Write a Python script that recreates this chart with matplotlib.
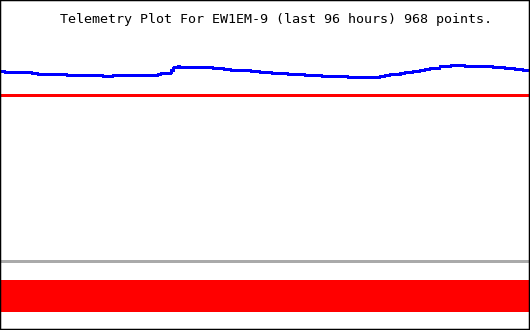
import numpy as np
import matplotlib
matplotlib.use('Agg')
from matplotlib import pyplot as plt

# telemetry trace, hours before now and level
hours = [-96.0, -95.1, -90.2, -89.1, -83.9, -77.3, -75.5, -67.4, -66.8, -65.0,
         -64.5, -63.8, -63.4, -57.4, -55.4, -54.2, -50.5, -48.9, -46.7, -43.8,
         -40.8, -37.7, -33.0, -27.2, -26.3, -25.4, -23.5, -22.6, -21.2, -19.9,
         -19.0, -18.1, -16.3, -14.3, -11.8, -6.7, -4.5, -2.7, -1.3, 0.0]
level = [25.9, 25.8, 25.7, 25.6, 25.5, 25.4, 25.5, 25.6, 25.7, 26.0,
         26.3, 26.4, 26.3, 26.2, 26.1, 26.0, 25.9, 25.8, 25.7, 25.6,
         25.5, 25.4, 25.3, 25.4, 25.5, 25.6, 25.7, 25.8, 25.9, 26.0,
         26.1, 26.2, 26.4, 26.5, 26.4, 26.3, 26.2, 26.1, 26.0, 26.0]

upper_limit = 23.5
grey_ref = 6.9
red_bands = [4.85, 4.45, 4.05, 3.65, 3.25, 2.85, 2.45, 2.05]

title = 'Telemetry Plot For EW1EM-9 (last 96 hours) 968 points.'

if __name__ == "__main__":
    fig = plt.figure(figsize=(5.3, 3.3), dpi=100, facecolor='w')
    ax = fig.add_axes([0, 0, 1, 1])
    px = 72.0 / 100  # one pixel in points

    # aliased, unsnapped lines; y range nudged half a pixel so they land on whole rows
    ax.plot(hours, level, color='#0000ff', lw=1.9 * px, drawstyle='steps-post',
            snap=False, antialiased=False, solid_capstyle='butt')
    ax.axhline(upper_limit, color='#ff0000', lw=1.9 * px, snap=False, antialiased=False)
    ax.axhline(grey_ref, color='#aaaaaa', lw=1.9 * px, snap=False, antialiased=False)
    for b in red_bands:
        ax.axhline(b, color='#ff0000', lw=2.9 * px, snap=False, antialiased=False)

    ax.set_xlim(-96, 0)
    ax.set_ylim(0.05, 33.05)
    ax.set_xticks([])
    ax.set_yticks([])
    for s in ax.spines.values():
        s.set_linewidth(2.5 * px)
        s.set_color('black')

    ax.text(0.521, 0.931, title, transform=ax.transAxes, ha='center',
            va='baseline', fontsize=9.6, family='DejaVu Sans Mono', color='black')

    plt.savefig('out.png', dpi=100, facecolor='w')
